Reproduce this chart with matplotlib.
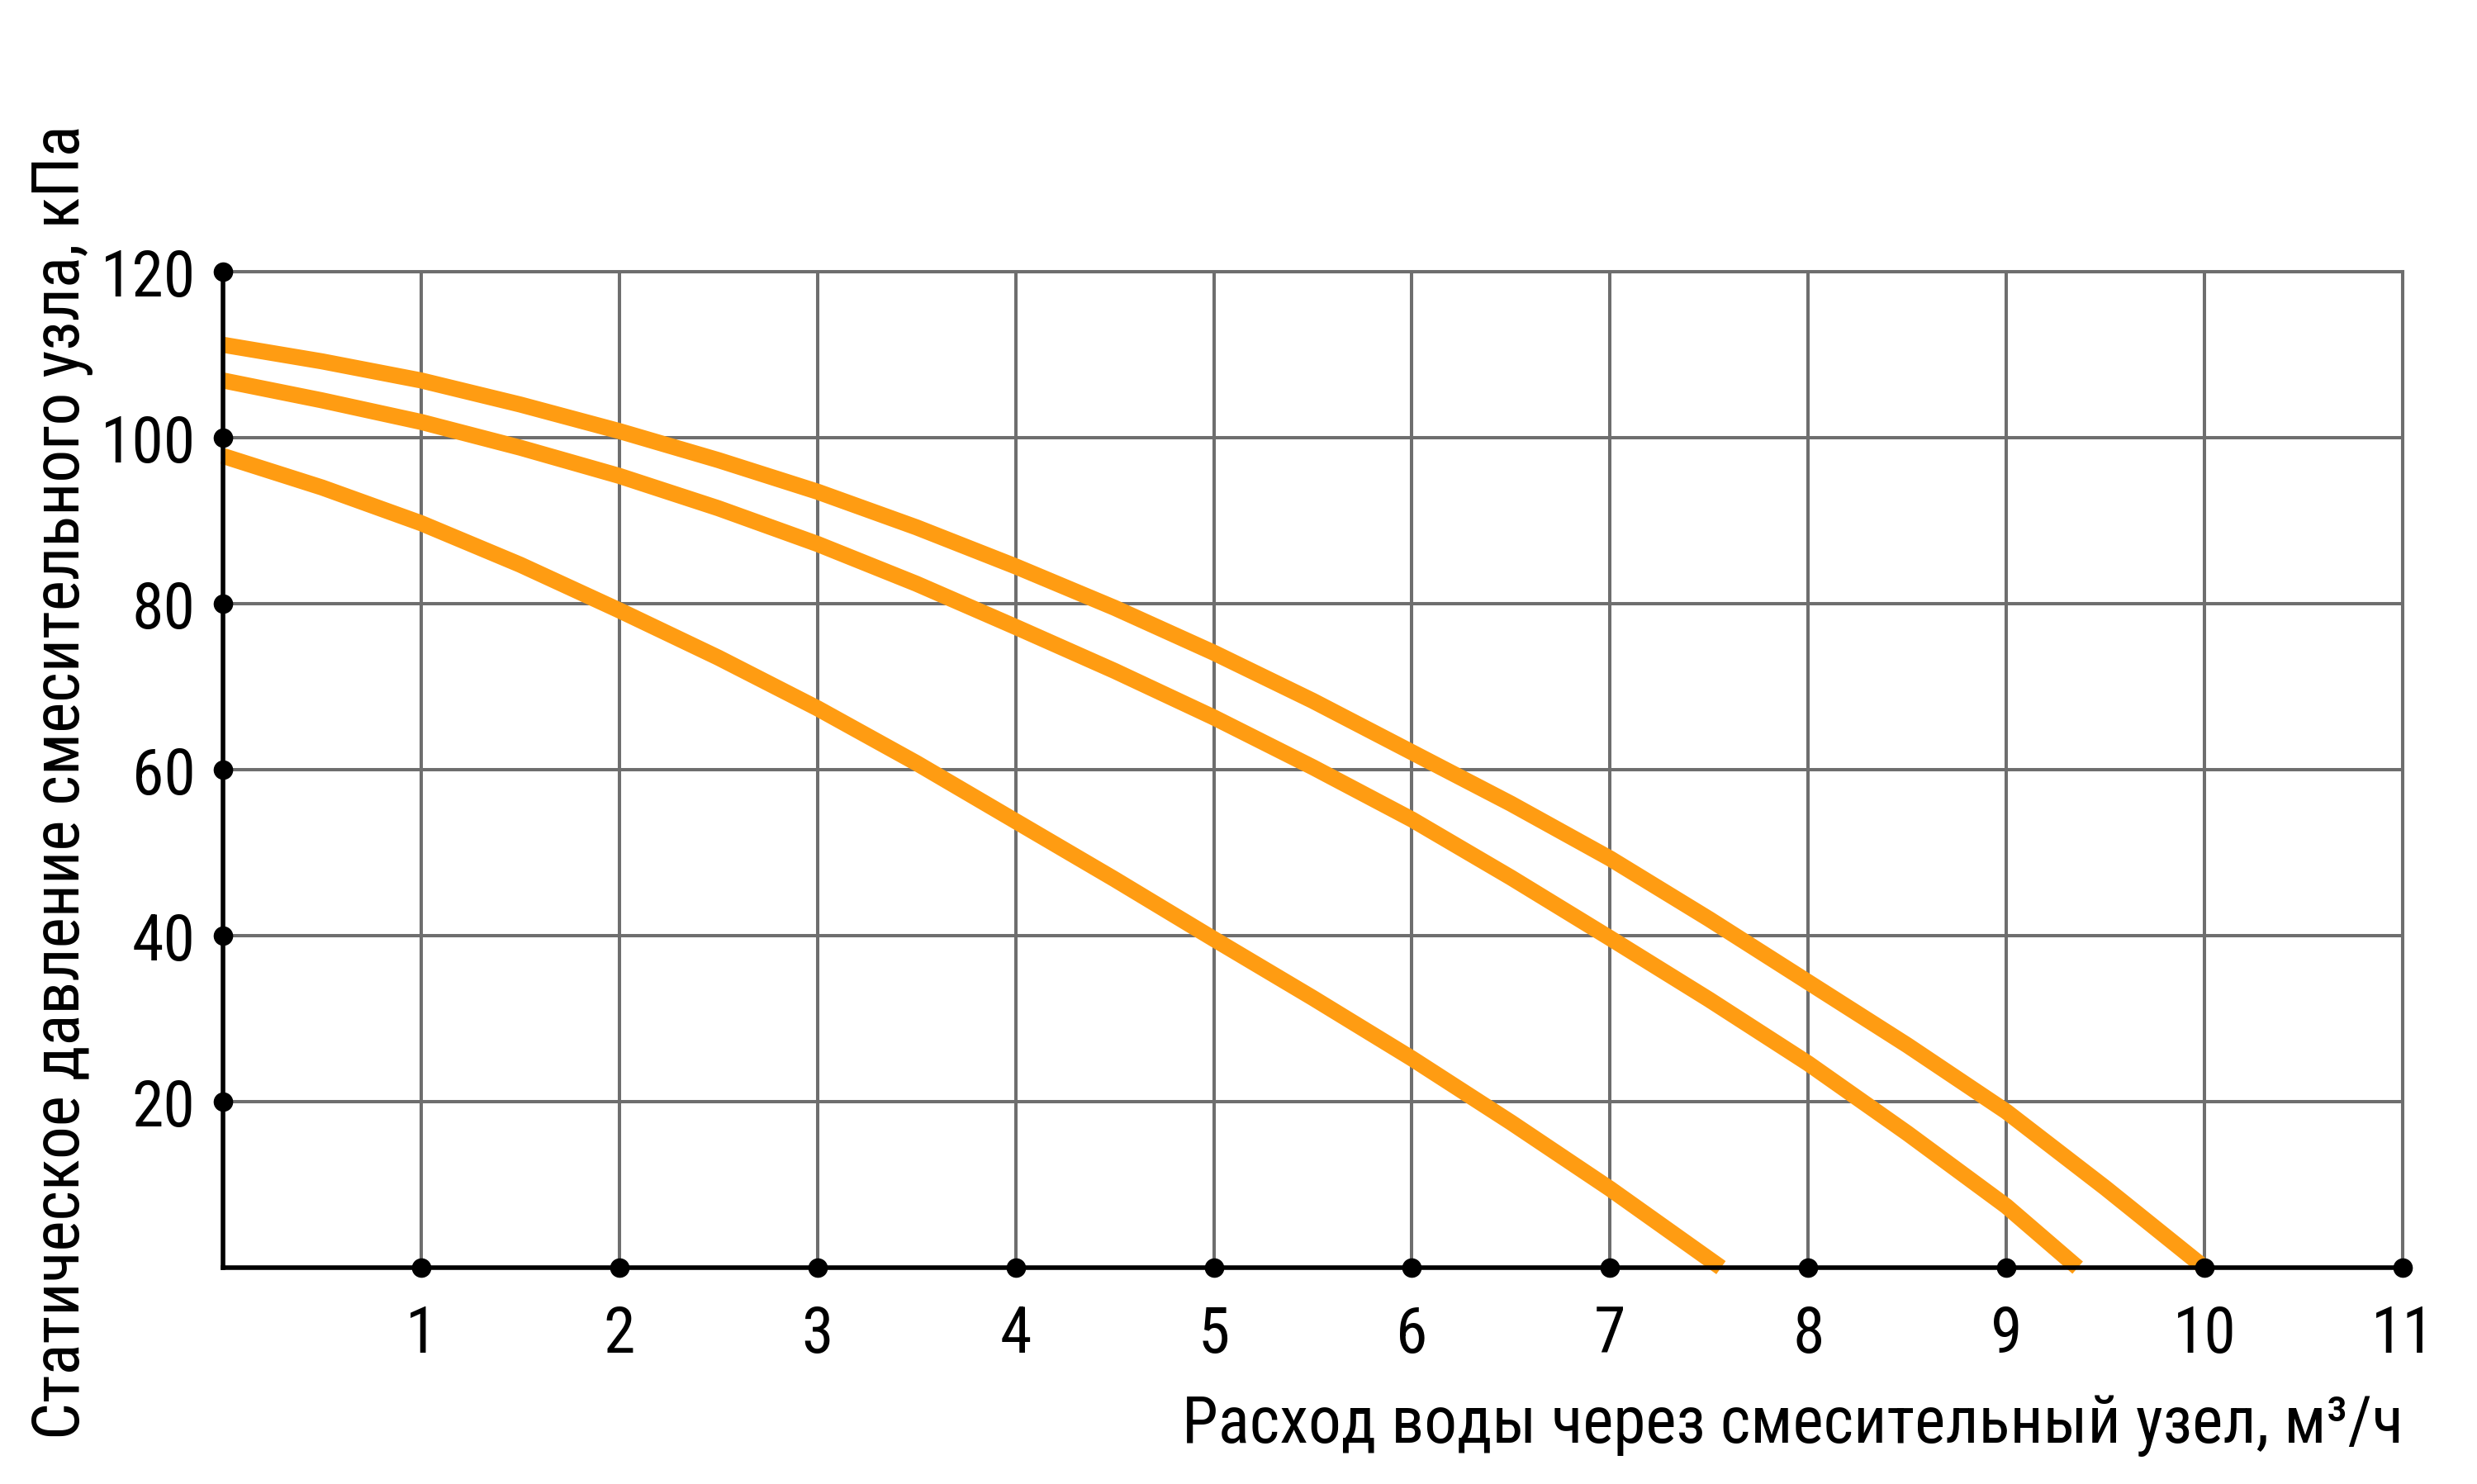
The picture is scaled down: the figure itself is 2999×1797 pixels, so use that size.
import matplotlib
matplotlib.use('Agg')
import matplotlib.pyplot as plt
from matplotlib import font_manager

# ================= Data =================
x_top = [0, 0.5, 1, 1.5, 2, 2.5, 3, 3.5, 4, 4.5, 5, 5.5, 6, 6.5, 7, 7.5, 8, 8.5, 9, 9.5, 10]
y_top = [111.2, 109.2, 106.9, 104.0, 100.8, 97.3, 93.5, 89.2, 84.5, 79.5, 74.1,
         68.3, 62.1, 55.9, 49.3, 42.0, 34.4, 26.8, 18.8, 9.6, 0]

x_mid = [0, 0.5, 1, 1.5, 2, 2.5, 3, 3.5, 4, 4.5, 5, 5.5, 6, 6.5, 7, 7.5, 8, 8.5, 9, 9.36]
y_mid = [106.9, 104.5, 101.9, 98.8, 95.4, 91.5, 87.2, 82.4, 77.2, 71.9, 66.3,
         60.3, 54.0, 47.0, 39.7, 32.3, 24.6, 16.2, 7.4, 0]

x_low = [0, 0.5, 1, 1.5, 2, 2.5, 3, 3.5, 4, 4.5, 5, 5.5, 6, 6.5, 7, 7.56]
y_low = [97.8, 94.0, 89.7, 84.7, 79.2, 73.5, 67.4, 60.8, 53.8, 46.8, 39.6,
         32.5, 25.2, 17.5, 9.5, 0]

x_ticks = [1, 2, 3, 4, 5, 6, 7, 8, 9, 10, 11]
y_ticks = [20, 40, 60, 80, 100, 120]

x_label = 'Расход воды через смесительный узел, м³/ч'
y_label = 'Статическое давление смесительного узла, кПа'

# ================= Font: pick a narrow one if there is one =================
names = {f.name for f in font_manager.fontManager.ttflist}
family = 'DejaVu Sans'
for cand in ['Liberation Sans Narrow', 'DejaVu Sans Condensed', 'Roboto Condensed',
             'Open Sans Condensed', 'Noto Sans Display']:
    if cand in names:
        family = cand
        break
plt.rcParams['font.family'] = [family, 'DejaVu Sans']

orange = '#FF9C12'
grid_gray = '#6E6E6E'
fs_ticks = 56
fs_label = 57

fig = plt.figure(figsize=(29.99, 17.97), dpi=100)
ax = fig.add_axes([0.090, 0.1458, 0.880, 0.6711])

ax.set_xlim(0, 11)
ax.set_ylim(0, 120)

# grid
ax.set_xticks(x_ticks)
ax.set_yticks(y_ticks)
ax.grid(True, color=grid_gray, linewidth=2.9, zorder=0)
ax.set_axisbelow(True)
ax.tick_params(length=0)
ax.tick_params(axis='x', pad=32, labelsize=fs_ticks)
ax.tick_params(axis='y', pad=24, labelsize=fs_ticks)

for side in ['top', 'right']:
    ax.spines[side].set_color(grid_gray)
    ax.spines[side].set_linewidth(2.9)
for side in ['left', 'bottom']:
    ax.spines[side].set_color('black')
    ax.spines[side].set_linewidth(4)
    ax.spines[side].set_zorder(3)

# curves
for xs, ys in [(x_top, y_top), (x_mid, y_mid), (x_low, y_low)]:
    ax.plot(xs, ys, color=orange, linewidth=14, solid_capstyle='butt',
            solid_joinstyle='round', clip_on=False, zorder=2)

# dots on the axes
ax.plot(x_ticks, [0] * len(x_ticks), 'o', color='black', markersize=16,
        clip_on=False, zorder=4)
ax.plot([0] * len(y_ticks), y_ticks, 'o', color='black', markersize=16,
        clip_on=False, zorder=4)

# axis titles
fig.text(2910 / 2999, 1 - 1747 / 1797, x_label, fontsize=fs_label, ha='right', va='baseline')
fig.text(96 / 2999, 1 - 947 / 1797, y_label, fontsize=fs_label, rotation=90,
         rotation_mode='anchor', ha='center', va='baseline')

fig.savefig('out.png', dpi=100, facecolor='white')
